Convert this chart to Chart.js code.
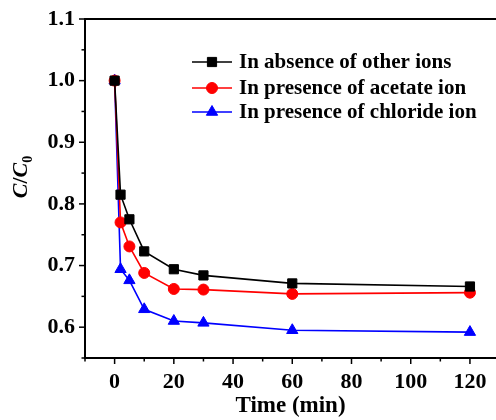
<!DOCTYPE html>
<html>
<head>
<meta charset="utf-8">
<script src="https://cdn.jsdelivr.net/npm/chart.js@4/dist/chart.umd.min.js"></script>
<style>
  html, body { margin: 0; padding: 0; background: #fff; }
  #wrap { width: 496px; height: 420px; position: relative; }
</style>
</head>
<body>
<div id="wrap"><canvas id="chart"></canvas></div>
<script>
var FONT = "'Liberation Serif', 'Times New Roman', serif";

var times = [0, 2, 5, 10, 20, 30, 60, 120];
var absenceVals = [1.0, 0.815, 0.775, 0.723, 0.694, 0.684, 0.671, 0.666];
var acetateVals = [1.0, 0.770, 0.731, 0.688, 0.662, 0.661, 0.654, 0.656];
var chlorideVals = [1.0, 0.694, 0.676, 0.629, 0.610, 0.607, 0.595, 0.592];
var seriesNames = ["In absence of other ions", "In presence of acetate ion", "In presence of chloride ion"];
var xLabels = [0, 20, 40, 60, 80, 100, 120];
var yLabels = [0.6, 0.7, 0.8, 0.9, 1.0, 1.1];

function toPoints(vals) {
  return times.map(function(t, i) { return {x: t, y: vals[i]}; });
}

function makeSet(name, vals, color, style, radius) {
  return {
    label: name,
    data: toPoints(vals),
    borderColor: color,
    backgroundColor: color,
    borderWidth: 1.6,
    pointStyle: style,
    pointRadius: radius,
    pointHoverRadius: radius,
    pointBorderWidth: 1,
    pointBorderColor: color,
    pointBackgroundColor: color,
    tension: 0
  };
}

// outward tick marks, long on labelled values, short between
var tickMarks = {
  id: "tickMarks",
  afterDraw: function(chart) {
    var ctx = chart.ctx;
    var area = chart.chartArea;
    var xs = chart.scales.x, ys = chart.scales.y;
    ctx.save();
    ctx.strokeStyle = "#000";
    ctx.lineWidth = 1.5;
    xs.ticks.forEach(function(t) {
      var px = xs.getPixelForValue(t.value);
      var major = xLabels.some(function(v) { return Math.abs(v - t.value) < 1e-6; });
      ctx.beginPath();
      ctx.moveTo(px, area.bottom);
      ctx.lineTo(px, area.bottom + (major ? 6 : 3.5));
      ctx.stroke();
    });
    ys.ticks.forEach(function(t) {
      var py = ys.getPixelForValue(t.value);
      var major = yLabels.some(function(v) { return Math.abs(v - t.value) < 1e-6; });
      ctx.beginPath();
      ctx.moveTo(area.left, py);
      ctx.lineTo(area.left - (major ? 6 : 3.5), py);
      ctx.stroke();
    });
    // top frame line
    ctx.lineWidth = 2;
    ctx.beginPath();
    ctx.moveTo(area.left - 1, area.top);
    ctx.lineTo(area.right, area.top);
    ctx.stroke();
    ctx.restore();
  }
};

// y title C/C0 with subscript
var yTitle = {
  id: "yTitle",
  afterDraw: function(chart) {
    var ctx = chart.ctx;
    var parts = [
      {t: "C", f: "italic bold 22px " + FONT, dy: 0},
      {t: "/", f: "bold 22px " + FONT, dy: 0},
      {t: "C", f: "italic bold 22px " + FONT, dy: 0},
      {t: "0", f: "bold 14px " + FONT, dy: 5}
    ];
    ctx.save();
    var total = 0;
    parts.forEach(function(p) { ctx.font = p.f; p.w = ctx.measureText(p.t).width; total += p.w; });
    ctx.translate(27, 177);
    ctx.rotate(-Math.PI / 2);
    ctx.fillStyle = "#000";
    ctx.textBaseline = "alphabetic";
    var x = -total / 2;
    parts.forEach(function(p) {
      ctx.font = p.f;
      ctx.fillText(p.t, x, p.dy);
      x += p.w;
    });
    ctx.restore();
  }
};

// legend with line + marker
var lineLegend = {
  id: "lineLegend",
  afterDraw: function(chart) {
    var ctx = chart.ctx;
    var rows = [62, 88, 112];
    ctx.save();
    chart.data.datasets.forEach(function(ds, i) {
      var y = rows[i];
      ctx.strokeStyle = ds.borderColor;
      ctx.lineWidth = 1.6;
      ctx.beginPath();
      ctx.moveTo(192, y);
      ctx.lineTo(232, y);
      ctx.stroke();
      ctx.fillStyle = ds.backgroundColor;
      ctx.strokeStyle = ds.borderColor;
      ctx.lineWidth = 1;
      Chart.helpers.drawPoint(ctx, {pointStyle: ds.pointStyle, radius: ds.pointRadius, rotation: 0, borderWidth: 1}, 212, y);
      ctx.fillStyle = "#000";
      ctx.font = "bold 21px " + FONT;
      ctx.textBaseline = "middle";
      ctx.fillText(ds.label, 239, y + 1);
    });
    ctx.restore();
  }
};

new Chart(document.getElementById("chart"), {
  type: "line",
  data: {
    datasets: [
      makeSet(seriesNames[0], absenceVals, "#000000", "rect", 6.5),
      makeSet(seriesNames[1], acetateVals, "#ff0000", "circle", 5.5),
      makeSet(seriesNames[2], chlorideVals, "#0000ff", "triangle", 6.5)
    ]
  },
  options: {
    responsive: true,
    maintainAspectRatio: false,
    animation: false,
    layout: { autoPadding: false, padding: { top: 19, right: 0, left: 0, bottom: 0 } },
    plugins: {
      legend: { display: false },
      tooltip: { enabled: false }
    },
    scales: {
      x: {
        type: "linear",
        min: -10,
        max: 128.8,
        afterFit: function(scale) {
          scale.height = 62;
          scale.paddingLeft = 0;
          scale.paddingRight = 0;
        },
        border: { display: true, color: "#000", width: 2 },
        grid: { display: true, drawOnChartArea: false, drawTicks: false, color: "rgba(0,0,0,0)" },
        ticks: {
          stepSize: 10,
          includeBounds: false,
          autoSkip: false,
          maxRotation: 0,
          padding: 11,
          color: "#000",
          font: { family: FONT, size: 22, weight: "bold" },
          callback: function(v) {
            var hit = xLabels.some(function(l) { return Math.abs(l - v) < 1e-6; });
            return hit ? String(Math.round(v)) : "";
          }
        },
        title: {
          display: true,
          text: "Time (min)",
          color: "#000",
          font: { family: FONT, size: 23, weight: "bold" },
          padding: { top: 0, bottom: 0 }
        }
      },
      y: {
        min: 0.55,
        max: 1.1,
        afterFit: function(scale) {
          scale.width = 85;
          scale.paddingTop = 0;
          scale.paddingBottom = 0;
        },
        border: { display: true, color: "#000", width: 2 },
        grid: { display: true, drawOnChartArea: false, drawTicks: false, color: "rgba(0,0,0,0)" },
        ticks: {
          stepSize: 0.05,
          autoSkip: false,
          padding: 10,
          color: "#000",
          font: { family: FONT, size: 22, weight: "bold" },
          callback: function(v) {
            var hit = yLabels.some(function(l) { return Math.abs(l - v) < 1e-6; });
            return hit ? v.toFixed(1) : "";
          }
        }
      }
    }
  },
  plugins: [tickMarks, yTitle, lineLegend]
});
</script>
</body>
</html>
